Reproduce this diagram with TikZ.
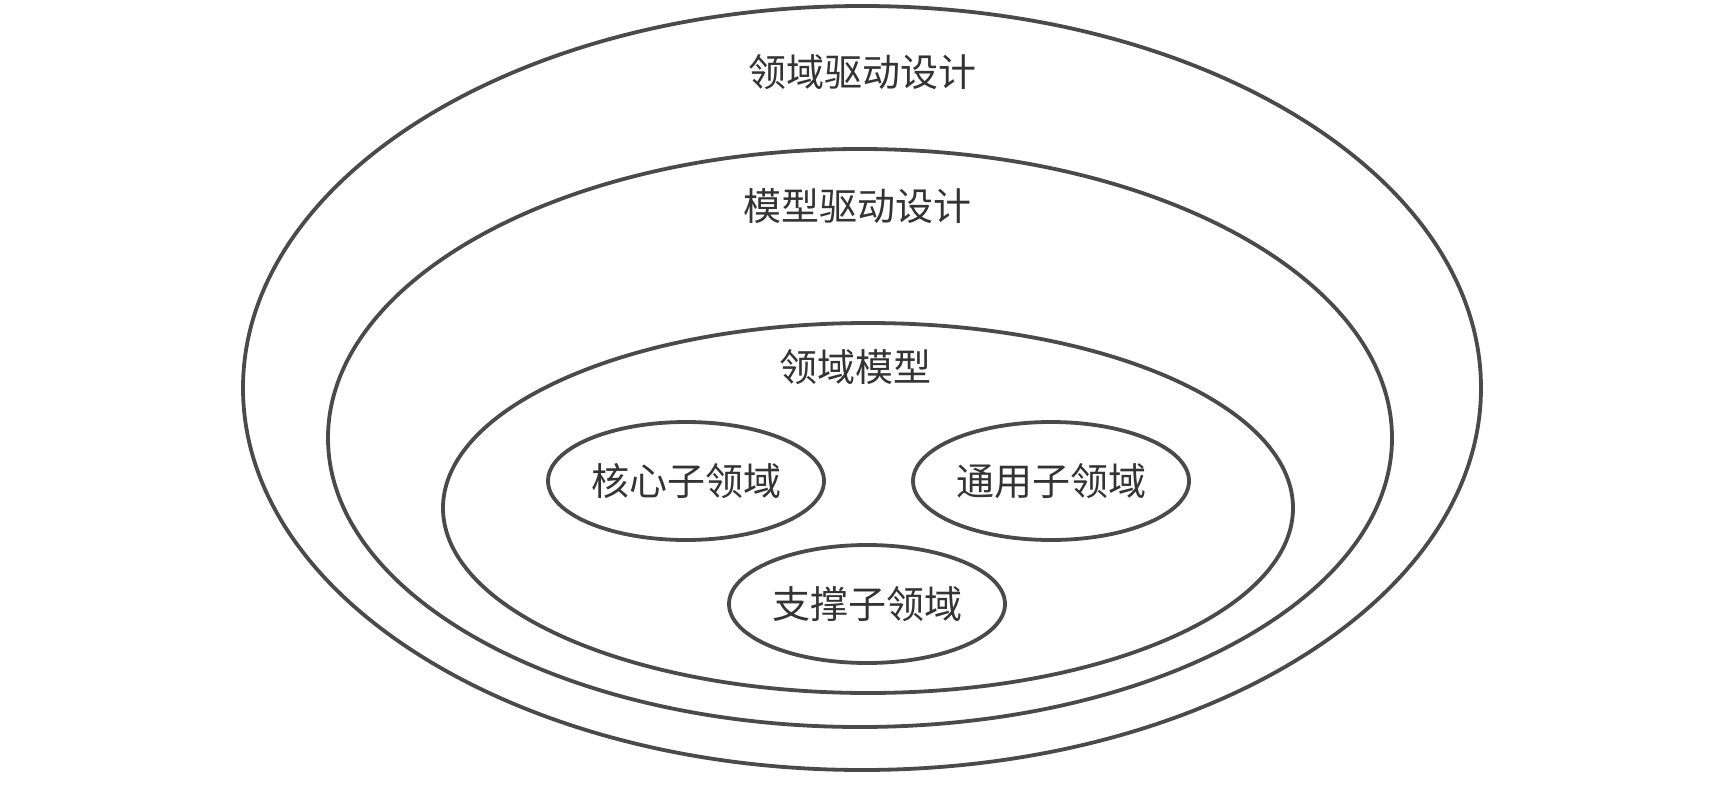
\documentclass[tikz,border=0pt]{standalone}
\usepackage{fontspec}
\newfontfamily\cjk{Noto Sans CJK SC}
\usepackage{tikz}
\usepackage{xcolor}
\definecolor{rim}{HTML}{4A4A4A}
\definecolor{ink}{HTML}{333333}

\begin{document}
\begin{tikzpicture}[x=1pt,y=-1pt,
    rim/.style={draw=rim,line width=3.8pt},
    lbl/.style={text=ink,font=\cjk\fontsize{38}{40}\selectfont,inner sep=0pt}]
        \def\sx{138}
        \def\sy{59}
        % --- 画布 ---
        \useasboundingbox[fill=white] (0,0) rectangle (1730,808);

        % --- 同心椭圆 ---
        \coordinate (ddd) at (862,388);
        \coordinate (mdd) at (860,438);
        \coordinate (dm) at (868,508);
        \draw[rim] (ddd) ellipse [x radius=619,y radius=382];
        \draw[rim] (mdd) ellipse [x radius=532,y radius=289];
        \draw[rim] (dm) ellipse [x radius=425,y radius=185];

        % --- 子领域 ---
        \coordinate (core) at (686,481);
        \coordinate (generic) at (1051,481);
        \coordinate (support) at (867,604);
        \draw[rim] (core) ellipse [x radius=\sx,y radius=\sy];
        \draw[rim] (generic) ellipse [x radius=\sx,y radius=\sy];
        \draw[rim] (support) ellipse [x radius=\sx,y radius=\sy];

        % --- 标签 ---
        \node[lbl] (dddlbl) at (862,72) {领域驱动设计};
        \node[lbl] (mddlbl) at (857,206) {模型驱动设计};
        \node[lbl] (dmlbl) at (855,367) {领域模型};
        \node[lbl] (corelbl) at (core) {核心子领域};
        \node[lbl] (genericlbl) at (generic) {通用子领域};
        \node[lbl] (supportlbl) at (support) {支撑子领域};
      \end{tikzpicture}
\end{document}
